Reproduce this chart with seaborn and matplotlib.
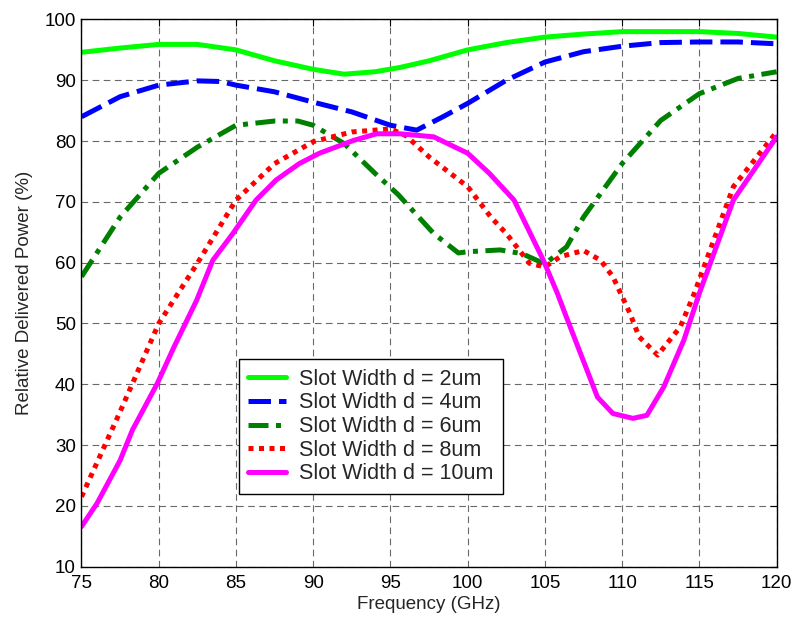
import matplotlib
matplotlib.use("Agg")
import matplotlib.pyplot as plt
import seaborn as sns
import pandas as pd

# ---- data ----
freq_2um = [75, 77.5, 80, 82.5, 85, 87.5, 90, 92, 94, 95.6, 97.5, 100, 102.5, 105, 107.5, 110, 112.5, 115, 117.5, 120]
pow_2um = [94.6, 95.3, 95.9, 95.9, 95.0, 93.2, 91.8, 91.0, 91.4, 92.1, 93.2, 95.0, 96.2, 97.1, 97.6, 98.0, 98.0, 98.0, 97.7, 97.1]

freq_4um = [75, 77.5, 80, 82.5, 84, 85, 87.5, 90, 92.5, 95, 96.7, 98.4, 100, 102.5, 105, 107.5, 110, 112.5, 115, 117.5, 120]
pow_4um = [84.0, 87.3, 89.2, 89.9, 89.8, 89.2, 88.1, 86.4, 84.8, 82.6, 81.8, 84.0, 86.2, 90.0, 93.0, 94.7, 95.6, 96.2, 96.3, 96.3, 96.0]

freq_6um = [75, 77.5, 80, 82.5, 85, 87.5, 89, 90, 92, 94, 95.5, 97.8, 99.4, 100, 102.1, 103.5, 105, 106.4, 107.5, 110, 112.5, 115, 117.5, 120]
pow_6um = [57.7, 67.5, 74.7, 79.0, 82.6, 83.3, 83.3, 82.6, 79.6, 74.7, 71.2, 64.8, 61.6, 61.8, 62.1, 61.5, 59.8, 62.6, 67.5, 76.3, 83.4, 87.8, 90.3, 91.4]

freq_8um = [75, 77.5, 80, 82.5, 85, 87.5, 90, 92.5, 95, 96, 97.5, 100, 101.5, 102.5, 104, 105, 106, 107.5, 108.6, 109.4, 110.5, 111.1, 112.3, 113.75, 114.6, 117.2, 120]
pow_8um = [21.5, 35.5, 50.0, 59.9, 70.3, 76.3, 79.9, 81.5, 82.0, 80.9, 77.4, 72.5, 67.5, 64.8, 59.9, 59.3, 61.0, 62.0, 60.4, 57.7, 51.7, 47.8, 44.8, 49.4, 54.5, 72.5, 81.5]

freq_10um = [75, 76, 77.5, 78.3, 79.9, 81, 82.45, 83.5, 84.8, 86.3, 87.6, 89.1, 90.4, 92.6, 94.1, 95.6, 97.8, 100, 101.4, 103, 104.9, 105.8, 106.4, 107.3, 108.4, 109.4, 110.7, 111.6, 112.7, 114, 115, 117.2, 120]
pow_10um = [16.6, 20.4, 27.5, 32.5, 40.1, 46.2, 53.8, 60.4, 64.8, 70.3, 73.6, 76.3, 78.0, 80.1, 81.2, 81.2, 80.7, 78.0, 74.7, 70.3, 60.4, 55.0, 51.0, 45.1, 37.9, 35.2, 34.4, 34.9, 39.6, 47.3, 55.0, 70.3, 80.7]

labels = ["Slot Width d = 2um", "Slot Width d = 4um", "Slot Width d = 6um",
          "Slot Width d = 8um", "Slot Width d = 10um"]
x_ticks = [75, 80, 85, 90, 95, 100, 105, 110, 115, 120]
y_ticks = [10, 20, 30, 40, 50, 60, 70, 80, 90, 100]

series = [(freq_2um, pow_2um), (freq_4um, pow_4um), (freq_6um, pow_6um),
          (freq_8um, pow_8um), (freq_10um, pow_10um)]

sns.set_theme(style="white")
plt.rcParams['font.family'] = ['Liberation Sans', 'DejaVu Sans']

fig = plt.figure(figsize=(7.99, 6.24), dpi=100)
ax = fig.add_axes([0.102, 0.0918, 0.870, 0.877])

colors = ["#00ff00", "#0000ff", "#008000", "#ff0000", "#ff00ff"]
dashes = [(None, None), (4.5, 1.6), (4, 1.5, 1, 1.5), (1, 1.1), (None, None)]

for (fx, py), lab, c, d in zip(series, labels, colors, dashes):
    df = pd.DataFrame({"Frequency": fx, "Power": py})
    sns.lineplot(data=df, x="Frequency", y="Power", ax=ax, color=c, lw=3.6, label=lab)
    line = ax.lines[-1]
    if d[0] is not None:
        line.set_dashes(d)
        line.set_dash_capstyle("butt")

ax.set_xlim(75, 120)
ax.set_ylim(10, 100)
ax.set_xticks(x_ticks)
ax.set_yticks(y_ticks)
ax.grid(True, color="#444444", linestyle=(0, (6, 4)), linewidth=0.8, alpha=0.8)
ax.tick_params(direction="in", top=True, right=True, length=5, width=0.8,
               labelsize=13.5, colors="black")
ax.tick_params(axis="y", pad=4)
ax.tick_params(axis="x", pad=6)
for s in ax.spines.values():
    s.set_color("black")
    s.set_linewidth(1.0)
ax.set_xlabel("Frequency (GHz)", fontsize=13.5, labelpad=3)
ax.set_ylabel("Relative Delivered Power (%)", fontsize=13.5, labelpad=8)

leg = ax.legend(loc="lower left", bbox_to_anchor=(0.226, 0.133), borderaxespad=0,
                fontsize=15.5, frameon=True, fancybox=False, edgecolor="black",
                framealpha=1, handlelength=1.75, borderpad=0.45, labelspacing=0.12,
                handletextpad=0.6)
leg.get_frame().set_linewidth(1.0)

fig.savefig("out.png", dpi=100)
